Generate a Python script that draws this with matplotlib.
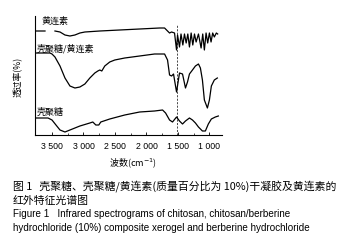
import numpy as np
import matplotlib

matplotlib.use("Agg")
import matplotlib.pyplot as plt
from matplotlib.ticker import FixedLocator

plt.rcParams["font.family"] = ["Noto Sans CJK SC", "DejaVu Sans"]

# wavenumber (cm-1) / transmittance (a.u.)
berb_wn = [3769, 3611, np.nan, 3453, 3373, 3294, 3215, 3136, 3057, 2978, 2741, 2425, 2108, 1791, 1712,
           1665, 1633, 1601, 1554, 1522, 1506, 1475, 1451, 1422, 1396, 1369, 1343, 1317, 1290, 1264,
           1237, 1211, 1174, 1132, 1106, 1080, 1053, 1027, 1000, 974, 948, 922, 890, 869]
berb_t = [109, 109, np.nan, 109, 108, 105, 104, 105, 107, 108, 109, 110, 111, 112, 112,
          109, 107, 108, 107, 90, 105, 93, 106, 95, 106, 97, 106, 93, 107, 95,
          106, 98, 106, 92, 106, 90, 107, 97, 107, 98, 107, 103, 107, 106]

cs_berb_wn = [3769, 3532, 3500, 3453, 3373, 3294, 3215, 3136, 3057, 2978, 2899, 2820, 2772, 2741,
              2709, 2662, 2583, 2503, 2345, 2108, 1871, 1712, 1665, 1633, 1601, 1570, 1522, 1475,
              1427, 1380, 1348, 1317, 1269, 1222, 1174, 1143, 1111, 1080, 1032, 1000, 969, 922, 874]
cs_berb_t = [87, 87, 86, 83, 74, 62, 54, 52, 53, 56, 62, 67, 69, 70,
             69, 74, 78, 80, 82, 84, 86, 86, 80, 65, 64, 66, 48, 67,
             66, 52, 58, 66, 70, 74, 76, 72, 60, 40, 32, 40, 54, 60, 62]

cs_wn = [3769, 3563, 3500, 3437, 3373, 3294, 3215, 3057, 2899, 2852, 2804, 2757, 2725, 2583, 2345,
         2108, 1871, 1744, 1696, 1633, 1586, 1522, 1475, 1427, 1380, 1317, 1269, 1222, 1174, 1111,
         1064, 1017, 969, 906, 858]
cs_t = [22, 22, 20, 15, 10, 8, 10, 14, 17, 18, 15, 15, 18, 21, 25,
        28, 29, 30, 27, 20, 18, 23, 19, 16, 19, 22, 20, 17, 13, 9,
        9, 16, 21, 23, 24]

xticks = [3500, 3000, 2500, 2000, 1500, 1000]
xticklabels = ["3 500", "3 000", "2 500", "2 000", "1 500", "1 000"]

fig = plt.figure(figsize=(3.37, 2.48), dpi=100)
ax = fig.add_axes([35 / 337, 1 - 135 / 248, 187 / 337, 119 / 248])

for wn, t in ((berb_wn, berb_t), (cs_berb_wn, cs_berb_t), (cs_wn, cs_t)):
    ax.plot(wn, t, color="black", lw=0.9)
ax.axvline(1510, ymin=0, ymax=0.93, color="black", lw=0.5, ls=(0, (3, 2)))

ax.set_xlim(3770, 800)
ax.set_ylim(5, 124)
ax.spines["top"].set_visible(False)
ax.spines["right"].set_visible(False)
for s in ("left", "bottom"):
    ax.spines[s].set_linewidth(0.8)
ax.set_yticks([])
ax.set_xticks(xticks)
ax.set_xticklabels(xticklabels, family=["Liberation Sans"], fontsize=6.3)
ax.xaxis.set_minor_locator(FixedLocator([3250, 2750, 2250, 1750, 1250]))
ax.tick_params(axis="x", which="major", direction="in", length=2.5, width=0.6, pad=5)
ax.tick_params(axis="x", which="minor", direction="in", length=1.5, width=0.5)

fs_lab = 6.5
ax.text(3670, 119, "黄连素", fontsize=fs_lab, va="center")
ax.text(3750, 91, "壳聚糖/黄连素", fontsize=fs_lab, va="center")
ax.text(3750, 28, "壳聚糖", fontsize=fs_lab, va="center")

fig.text(18 / 337, 1 - 77 / 248, "透过率(%)", rotation=90, fontsize=6.3, ha="center", va="center")
fig.text(133 / 337, 1 - 163 / 248, "波数(cm$^{-1}$)", fontsize=6.5, ha="center", va="center")

fs_cn = 7.8
fs_en = 7.1
fig.text(13 / 337, 1 - 187 / 248, "图 1   壳聚糖、壳聚糖/黄连素(质量百分比为 10%)干凝胶及黄连素的",
         fontsize=fs_cn, va="center")
fig.text(13 / 337, 1 - 201 / 248, "红外特征光谱图", fontsize=fs_cn, va="center")
fig.text(13 / 337, 1 - 214 / 248, "Figure 1   Infrared spectrograms of chitosan, chitosan/berberine",
         fontsize=fs_en, va="center", family=["Liberation Sans"])
fig.text(13 / 337, 1 - 228 / 248, "hydrochloride (10%) composite xerogel and berberine hydrochloride",
         fontsize=fs_en, va="center", family=["Liberation Sans"])

fig.savefig("out.png", dpi=100)
